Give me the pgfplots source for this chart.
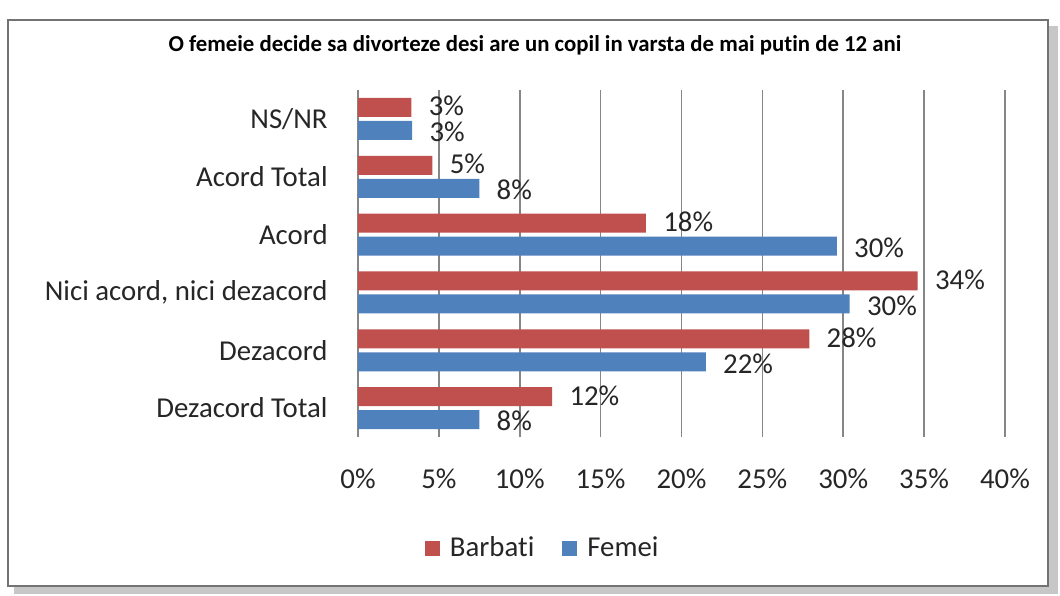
\documentclass[border=0pt]{standalone}
\usepackage{pgfplots}
\pgfplotsset{compat=1.18}
\usepackage{fontspec}
\setmainfont[Ligatures={NoCommon,NoContextual}]{Carlito}
\definecolor{barred}{HTML}{C0504D}
\definecolor{barblue}{HTML}{4F81BD}
\definecolor{gridgray}{HTML}{868686}
\definecolor{txt}{HTML}{262626}
\newcommand{\lblfont}{\fontsize{14.4}{17}\selectfont}
\begin{document}
\begin{tikzpicture}[x=1pt,y=1pt]
\path[use as bounding box] (0,0) rectangle (530,297.5);
\fill[black!22] (7,0.5) rectangle (529,284.5);
\draw[black!55, line width=1pt, fill=white] (4,4.5) rectangle (524,287.5);
\node[font=\bfseries\fontsize{11.4}{13}\selectfont, text=black] at (267.5,275) {O femeie decide sa divorteze desi are un copil in varsta de mai putin de 12 ani};
\begin{axis}[
  at={(179pt,79pt)}, anchor=south west,
  scale only axis, width=323.5pt, height=173.5pt,
  xmin=0, xmax=40, ymin=-0.5, ymax=5.5,
  xbar, bar width=9.5pt,
  xtick={0,5,...,40},
  xticklabels={0\%,5\%,10\%,15\%,20\%,25\%,30\%,35\%,40\%},
  ytick={0,...,5},
  yticklabels={Dezacord Total, Dezacord, {Nici acord, nici dezacord}, Acord, Acord Total, NS/NR},
  major tick length=0pt,
  tick style={draw=none},
  axis x line*=bottom, axis y line*=left,
  x axis line style={draw=none},
  y axis line style={draw=gridgray, line width=0.8pt},
  xmajorgrids, grid style={draw=gridgray, line width=0.8pt},
  xticklabel style={font=\lblfont, text=txt, anchor=center, inner sep=0pt, yshift=-21pt},
  yticklabel style={font=\lblfont, text=txt, anchor=east, inner sep=0pt, xshift=-15pt},
  point meta=explicit symbolic,
  nodes near coords,
  every node near coord/.append style={font=\lblfont, text=txt, anchor=west, inner sep=0pt, xshift=8.5pt},
  legend columns=2,
  legend style={at={(0.287,-0.32)}, anchor=center, draw=none, fill=none, inner sep=0pt,
    font=\lblfont, text=txt,
    /tikz/every odd column/.append style={column sep=3pt},
    /tikz/every even column/.append style={column sep=12pt}},
  legend image code/.code={\fill[#1] (0pt,-3.75pt) rectangle (7.5pt,3.75pt);},
]
\addplot[fill=barred, draw=none, bar shift=5.75pt,
  every node near coord/.append style={yshift=0.6pt}] coordinates {
  (12.0,0) [12\%]
  (27.9,1) [28\%]
  (34.6,2) [34\%]
  (17.8,3) [18\%]
  (4.6,4) [5\%]
  (3.3,5) [3\%]
};
\addlegendentry{Barbati}
\addplot[fill=barblue, draw=none, bar shift=-5.75pt,
  every node near coord/.append style={yshift=-0.8pt}] coordinates {
  (7.5,0) [8\%]
  (21.5,1) [22\%]
  (30.4,2) [30\%]
  (29.6,3) [30\%]
  (7.5,4) [8\%]
  (3.35,5) [3\%]
};
\addlegendentry{Femei}
\end{axis}
\end{tikzpicture}
\end{document}
